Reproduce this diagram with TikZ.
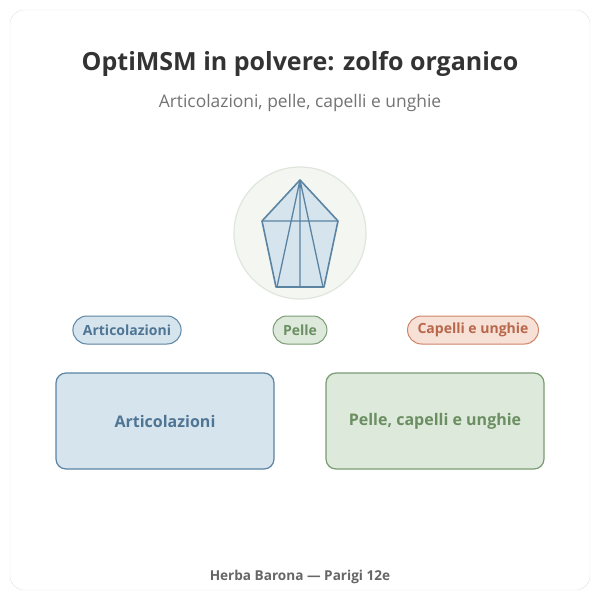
\documentclass[tikz,border=0pt]{standalone}
\usepackage{fontspec}
\setmainfont{Open Sans}
\begin{document}
\begin{tikzpicture}[x=1pt,y=-1pt,
pill/.style={draw=#1b,fill=#1f,line width=1pt,rounded corners=14pt,minimum height=28pt,inner xsep=10pt,font=\bfseries\fontsize{14}{16}\selectfont,text=#1t},
box/.style={draw=#1b,fill=#1f,line width=1.2pt,rounded corners=10pt,minimum width=218pt,minimum height=96pt,font=\bfseries\fontsize{16}{19}\selectfont,text=#1t}]
\definecolor{bb}{HTML}{5B84A3}\definecolor{bf}{HTML}{D6E4EE}\definecolor{bt}{HTML}{4F7594}
\definecolor{gb}{HTML}{7A9C72}\definecolor{gf}{HTML}{DDE9DA}\definecolor{gt}{HTML}{6B8F63}
\definecolor{ob}{HTML}{D08468}\definecolor{of}{HTML}{F7E0D6}\definecolor{ot}{HTML}{B8674A}
\definecolor{cf}{HTML}{F3F6F1}\definecolor{cb}{HTML}{E0E6DD}
\useasboundingbox (0,0) rectangle (600,600);
\draw[draw=black!12,fill=white,rounded corners=14pt] (10,10) rectangle (590,590);
\node[font=\bfseries\fontsize{25}{30}\selectfont,text=black!80] (title) at (300,64) {OptiMSM in polvere: zolfo organico};
\node[font=\fontsize{17.4}{20}\selectfont,text=black!55] (sub) at (300,103) {Articolazioni, pelle, capelli e unghie};
\node[circle,minimum size=132pt,draw=cb,fill=cf,line width=1.2pt] (c) at (300,233) {};
\coordinate (a) at (300,180);\coordinate (l) at (262,221);\coordinate (r) at (338,221);
\coordinate (bl) at (276,287);\coordinate (br) at (324,287);
\draw[bb,fill=bf,line width=1.6pt,line join=round] (a)--(r)--(br)--(bl)--(l)--cycle;
\draw[bb,line width=1.3pt] (l)--(r) (a)--(277,287) (a)--(300,287) (a)--(323,287);
\node[pill=b] (p1) at (127,330) {Articolazioni};
\node[pill=g] (p2) at (300,330) {Pelle};
\node[pill=o] (p3) at (473,330) {Capelli e unghie};
\node[box=b] (b1) at (165,421) {Articolazioni};
\node[box=g] (b2) at (435,421) {Pelle, capelli e unghie};
\node[font=\bfseries\fontsize{13.6}{16}\selectfont,text=black!60] (f) at (300,577) {Herba Barona — Parigi 12e};
\end{tikzpicture}
\end{document}
